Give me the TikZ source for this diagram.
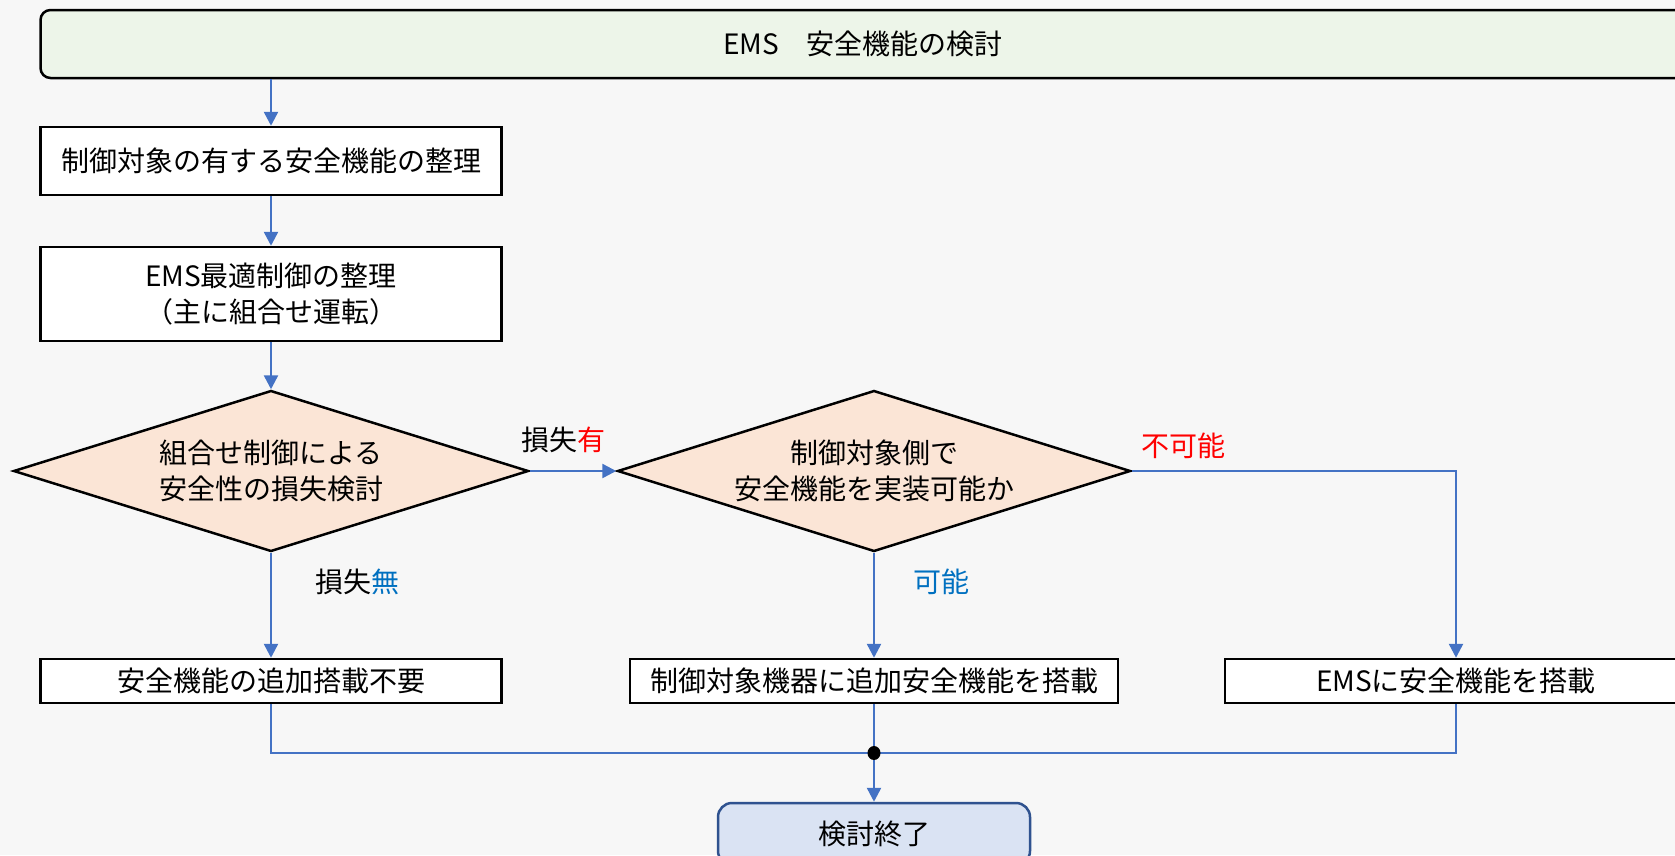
\documentclass[tikz,border=0pt]{standalone}
\usepackage{fontspec}
\setmainfont{Noto Sans CJK JP}
\usetikzlibrary{shapes.geometric,arrows.meta}
\definecolor{bg}{HTML}{F7F7F7}
\definecolor{topfill}{HTML}{EDF5E9}
\definecolor{dfill}{HTML}{FBE5D6}
\definecolor{endfill}{HTML}{DAE3F3}
\definecolor{endline}{HTML}{2F528F}
\definecolor{arr}{HTML}{4472C4}
\definecolor{lblred}{HTML}{FF0000}
\definecolor{lblblue}{HTML}{0070C0}
\tikzset{
  every node/.style={font=\fontsize{28pt}{36pt}\selectfont},
  procbox/.style={draw=black, line width=2.5pt, fill=white, inner sep=0pt, align=center},
  decbox/.style={diamond, aspect=3.2, draw=black, line width=2.5pt, fill=dfill, inner sep=0pt, align=center},
  flow/.style={draw=arr, line width=2.5pt, -{Triangle[length=14pt,width=14pt]}},
  joinline/.style={draw=arr, line width=2.5pt},
  lbl/.style={inner sep=0pt}
}
\begin{document}
\begin{tikzpicture}[x=1pt,y=-1pt]
\fill[bg] (0,0) rectangle (1675,855);
\useasboundingbox (0,0) rectangle (1675,855);
\clip (0,0) rectangle (1675,855);
% nodes
\node[procbox, fill=topfill, rounded corners=10pt, minimum width=1645pt, minimum height=68pt] (top) at (863,44) {EMS　安全機能の検討};
\node[procbox, minimum width=461pt, minimum height=68pt] (b1) at (271,161) {制御対象の有する安全機能の整理};
\node[procbox, minimum width=461pt, minimum height=94pt] (b2) at (271,294) {EMS最適制御の整理\\（主に組合せ運転）};
\node[decbox, minimum width=515pt, minimum height=161pt] (d1) at (271,471) {組合せ制御による\\安全性の損失検討};
\node[decbox, minimum width=513pt, minimum height=161pt] (d2) at (874,471) {制御対象側で\\安全機能を実装可能か};
\node[procbox, minimum width=461pt, minimum height=44pt] (b3) at (271,681) {安全機能の追加搭載不要};
\node[procbox, minimum width=488pt, minimum height=44pt] (b4) at (874,681) {制御対象機器に追加安全機能を搭載};
\node[procbox, minimum width=462pt, minimum height=44pt] (b5) at (1456,681) {EMSに安全機能を搭載};
\node[procbox, draw=endline, fill=endfill, rounded corners=14pt, minimum width=312pt, minimum height=62pt] (end) at (874,834) {検討終了};
\coordinate (jn) at (874,753);
\coordinate (jl) at (271,753);
\coordinate (jr) at (1456,753);
\coordinate (tr) at (1456,471);
% labels
\node[lbl] (l1) at (563,440) {損失\textcolor{lblred}{有}};
\node[lbl] (l2) at (1183,446) {\textcolor{lblred}{不可能}};
\node[lbl] (l3) at (357,582) {損失\textcolor{lblblue}{無}};
\node[lbl] (l4) at (941,582) {\textcolor{lblblue}{可能}};
% connectors
\draw[flow] (top.south -| b1) -- (b1.north);
\draw[flow] (b1) -- (b2);
\draw[flow] (b2) -- (d1.north);
\draw[flow] (d1.east) -- (d2.west);
\draw[flow] (d2.east) -- (tr) -- (b5.north);
\draw[flow] (d1.south) -- (b3.north);
\draw[flow] (d2.south) -- (b4.north);
\draw[joinline] (b3.south) -- (jl) -- (jr) -- (b5.south);
\draw[joinline] (b4.south) -- (jn);
\draw[flow] (jn) -- (end.north);
\fill[black] (jn) ellipse (6.5pt and 7pt);
\end{tikzpicture}
\end{document}
